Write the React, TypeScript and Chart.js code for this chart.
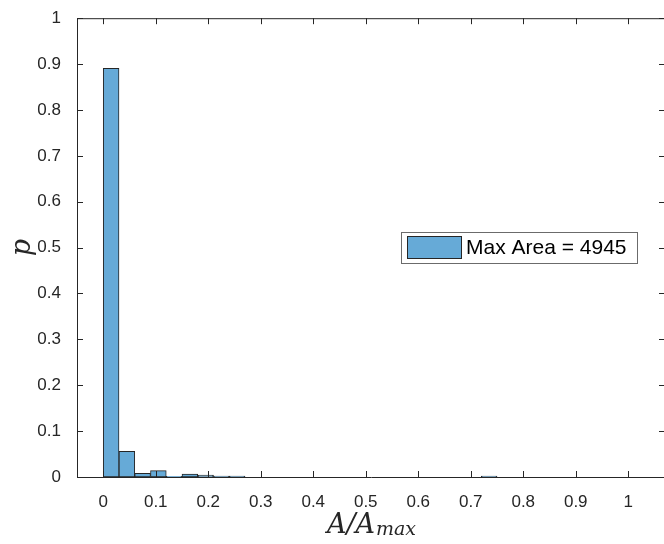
import React, { useEffect, useRef } from "react";
import { Chart, registerables } from "chart.js";

Chart.register(...registerables);

// ---- data ----
const LEGEND_LABEL = "Max Area = 4945";
const BIN_CENTERS = [
  0.015, 0.045, 0.075, 0.105, 0.135, 0.165, 0.195, 0.225, 0.255, 0.285,
  0.315, 0.345, 0.375, 0.405, 0.435, 0.465, 0.495, 0.525, 0.555, 0.585,
  0.615, 0.645, 0.675, 0.705, 0.735, 0.765, 0.795, 0.825, 0.855, 0.885,
  0.915, 0.945, 0.975, 1.005,
];
const PROBABILITIES = [
  0.891, 0.056, 0.008, 0.014, 0.0015, 0.0065, 0.004, 0.002, 0.002, 0,
  0, 0, 0, 0, 0, 0, 0, 0, 0, 0,
  0, 0, 0, 0, 0.002, 0, 0, 0, 0, 0,
  0, 0, 0, 0,
];
const X_TICKS = [0, 0.1, 0.2, 0.3, 0.4, 0.5, 0.6, 0.7, 0.8, 0.9, 1];
const Y_TICKS = [0, 0.1, 0.2, 0.3, 0.4, 0.5, 0.6, 0.7, 0.8, 0.9, 1];
const X_MIN = -0.05;
const X_MAX = 1.07;
const Y_MIN = 0;
const Y_MAX = 1;
const X_TITLE_MAIN = "A/A";
const X_TITLE_SUB = "max";
const Y_TITLE = "p";

// ---- styles ----
const AXIS_COLOR = "#262626";
const BAR_COLOR = "#66AAD7";
const SANS = '"Liberation Sans", Arial, Helvetica, sans-serif';
const SERIF = '"DejaVu Serif", "Liberation Serif", serif';
const TICK_LEN = 6;

const fmt = (v: number) => String(Number(Number(v).toFixed(3)));

const decorPlugin = {
  id: "matlabDecor",
  afterDraw(chart: any) {
    const ctx = chart.ctx;
    const { left, right, top, bottom } = chart.chartArea;
    const xs = chart.scales.x;
    const ys = chart.scales.y;
    ctx.save();
    // top / right border
    ctx.strokeStyle = AXIS_COLOR;
    ctx.lineWidth = 1;
    ctx.beginPath();
    ctx.moveTo(left, top + 0.5);
    ctx.lineTo(right, top + 0.5);
    ctx.moveTo(right - 0.5, top);
    ctx.lineTo(right - 0.5, bottom);
    ctx.stroke();
    // inward ticks
    ctx.beginPath();
    xs.ticks.forEach((t: any) => {
      const px = Math.round(xs.getPixelForValue(t.value)) + 0.5;
      ctx.moveTo(px, bottom);
      ctx.lineTo(px, bottom - TICK_LEN);
      ctx.moveTo(px, top);
      ctx.lineTo(px, top + TICK_LEN);
    });
    ys.ticks.forEach((t: any) => {
      const py = Math.round(ys.getPixelForValue(t.value)) + 0.5;
      ctx.moveTo(left, py);
      ctx.lineTo(left + TICK_LEN, py);
      ctx.moveTo(right, py);
      ctx.lineTo(right - TICK_LEN, py);
    });
    ctx.stroke();

    // legend
    const lx = left + 324;
    const ly = 232;
    const lw = 236;
    const lh = 31;
    ctx.fillStyle = "#ffffff";
    ctx.fillRect(lx, ly, lw, lh);
    ctx.strokeStyle = "#6b6b6b";
    ctx.strokeRect(lx + 0.5, ly + 0.5, lw, lh);
    const ds = chart.data.datasets[0];
    ctx.fillStyle = ds.backgroundColor;
    ctx.fillRect(lx + 6, ly + 4, 54, 22);
    ctx.strokeStyle = AXIS_COLOR;
    ctx.strokeRect(lx + 6.5, ly + 4.5, 54, 22);
    ctx.fillStyle = "#000000";
    ctx.font = `21px ${SANS}`;
    ctx.textBaseline = "middle";
    ctx.textAlign = "left";
    ctx.fillText(ds.label, lx + 65, ly + lh / 2 + 1);

    // x title
    ctx.fillStyle = AXIS_COLOR;
    ctx.textBaseline = "alphabetic";
    const mainFont = `italic 27px ${SERIF}`;
    const subFont = `italic 19px ${SERIF}`;
    ctx.font = mainFont;
    const wMain = ctx.measureText(X_TITLE_MAIN).width;
    ctx.font = subFont;
    const wSub = ctx.measureText(X_TITLE_SUB).width;
    const cx = (left + right) / 2;
    const startX = cx - (wMain + wSub) / 2;
    ctx.font = mainFont;
    ctx.fillText(X_TITLE_MAIN, startX, 533);
    ctx.font = subFont;
    ctx.fillText(X_TITLE_SUB, startX + wMain + 1, 535);

    // y title
    ctx.save();
    ctx.translate(30, (top + bottom) / 2);
    ctx.rotate(-Math.PI / 2);
    ctx.font = `italic 27px ${SERIF}`;
    ctx.textAlign = "center";
    ctx.fillText(Y_TITLE, 0, 0);
    ctx.restore();

    ctx.restore();
  },
};

export default function App() {
  const canvasRef = useRef<HTMLCanvasElement | null>(null);

  useEffect(() => {
    const canvas = canvasRef.current;
    if (!canvas) return;
    Chart.defaults.font.family = SANS;
    const chart = new Chart(canvas, {
      type: "bar",
      data: {
        datasets: [
          {
            label: LEGEND_LABEL,
            data: BIN_CENTERS.map((x, i) => ({ x, y: PROBABILITIES[i] })),
            backgroundColor: BAR_COLOR,
            borderColor: AXIS_COLOR,
            borderWidth: 1,
            borderSkipped: false,
            barPercentage: 1,
            categoryPercentage: 1,
          } as any,
        ],
      },
      options: {
        animation: false,
        responsive: false,
        layout: { padding: { top: 17, right: 0, left: 0, bottom: 0 } },
        plugins: {
          legend: { display: false },
          tooltip: { enabled: false },
        },
        scales: {
          x: {
            type: "linear",
            min: X_MIN,
            max: X_MAX,
            offset: false,
            grid: { display: false },
            border: { display: true, color: AXIS_COLOR, width: 1 },
            ticks: {
              padding: 7,
              color: AXIS_COLOR,
              font: { family: SANS, size: 17 },
              autoSkip: false,
              maxRotation: 0,
              callback: (v: any) => fmt(v),
            },
            afterBuildTicks: (s: any) => {
              s.ticks = X_TICKS.map((v) => ({ value: v }));
            },
            afterFit: (s: any) => {
              s.height = 67;
            },
          },
          y: {
            type: "linear",
            min: Y_MIN,
            max: Y_MAX,
            grid: { display: false },
            border: { display: true, color: AXIS_COLOR, width: 1 },
            ticks: {
              padding: 8,
              color: AXIS_COLOR,
              font: { family: SANS, size: 17 },
              autoSkip: false,
              callback: (v: any) => fmt(v),
            },
            afterBuildTicks: (s: any) => {
              s.ticks = Y_TICKS.map((v) => ({ value: v }));
            },
            afterFit: (s: any) => {
              s.width = 77;
            },
          },
        },
      } as any,
      plugins: [decorPlugin],
    });
    return () => chart.destroy();
  }, []);

  return (
    <div
      style={{
        position: "fixed",
        left: 0,
        top: 0,
        width: 664,
        height: 544,
        overflow: "hidden",
        background: "#ffffff",
      }}
    >
      <canvas ref={canvasRef} width={665} height={544} style={{ display: "block" }} />
    </div>
  );
}
